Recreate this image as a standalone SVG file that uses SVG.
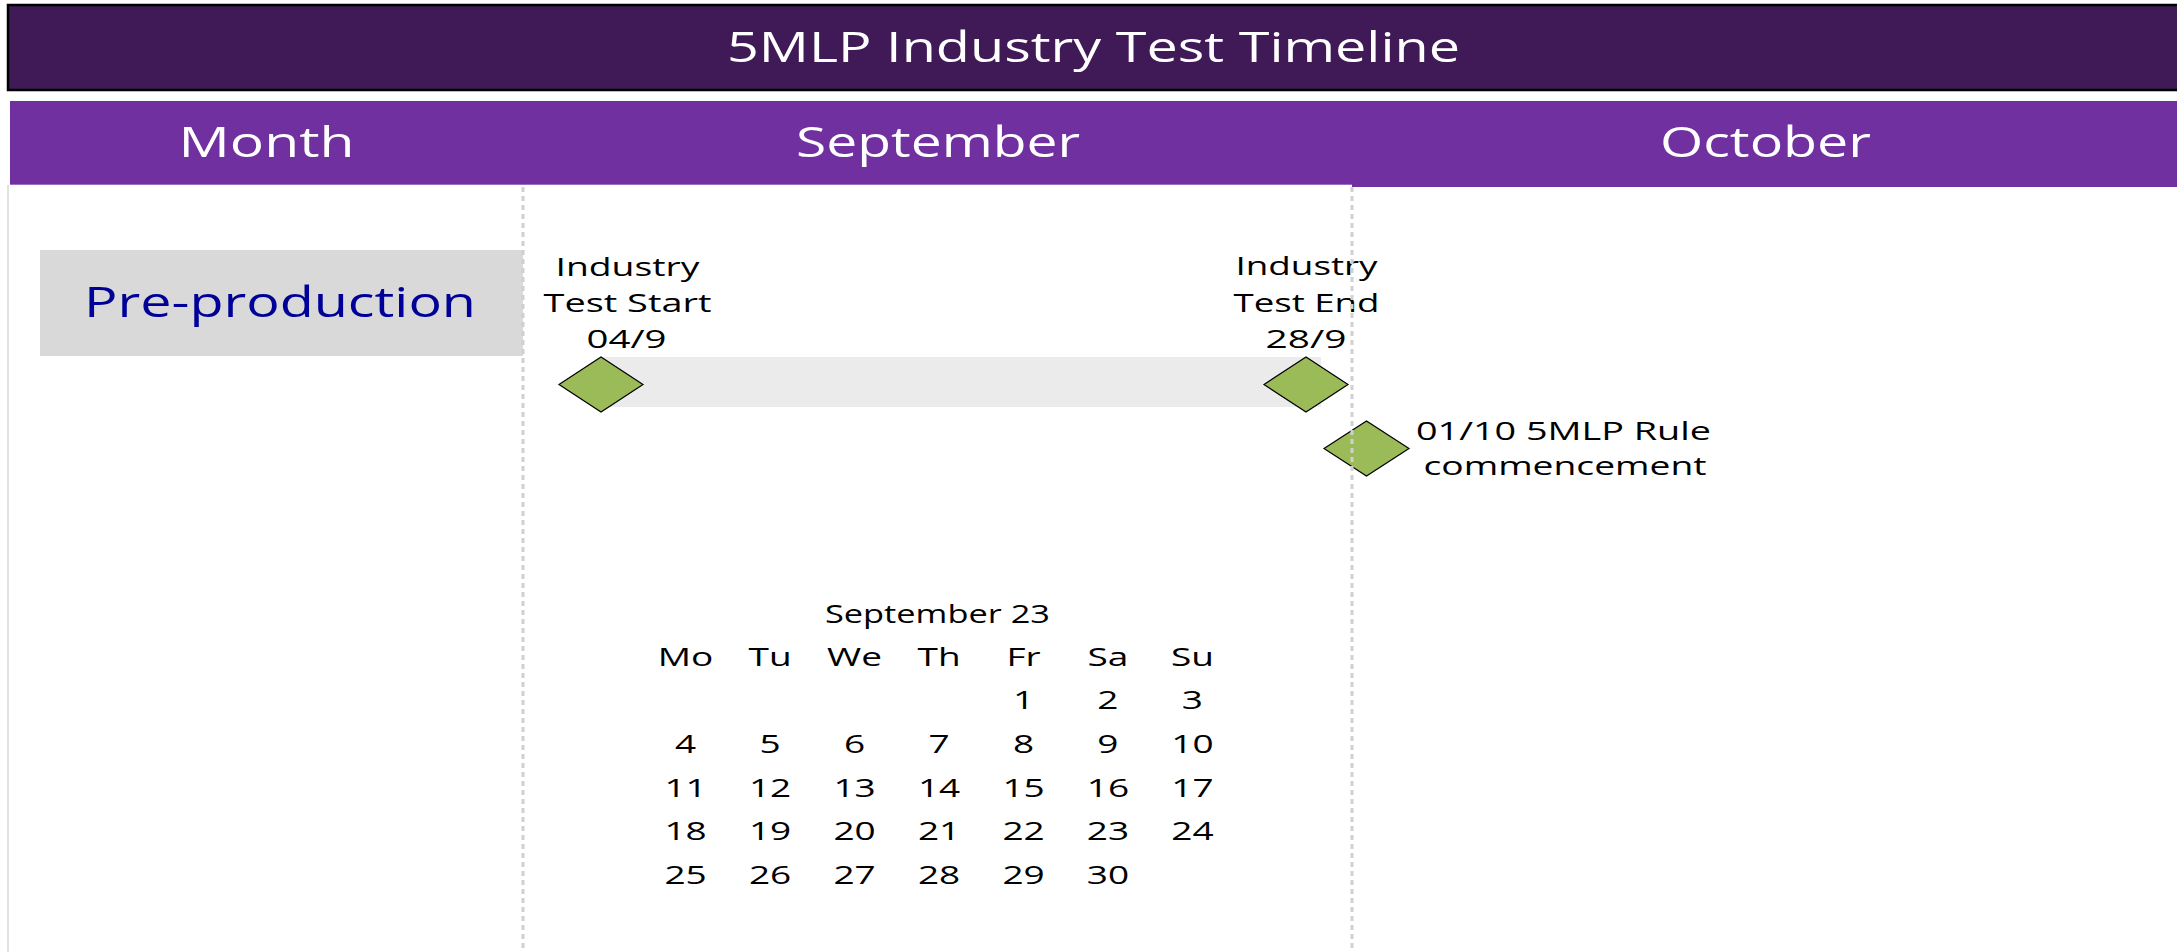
<svg xmlns="http://www.w3.org/2000/svg" width="2177" height="952" viewBox="0 0 2177 952">
<style>
.t{font-family:"Open Sans","Liberation Sans",sans-serif;text-anchor:middle}
.w{fill:#ffffff;font-size:42px}
.k{fill:#000000;font-size:26px}
.c{fill:#000000;font-size:25px}
.dia{fill:#9bbb59;stroke:#000000;stroke-width:1.2}
.dash{stroke:#d0d0d0;stroke-width:3;stroke-dasharray:5 4;fill:none}
</style>
<rect x="0" y="0" width="2177" height="952" fill="#ffffff"/>
<g id="title">
<rect x="8" y="5" width="2180" height="85" fill="#3f1a56" stroke="#000000" stroke-width="2.5"/>
<text class="t w" x="1093.5" y="62" textLength="733" lengthAdjust="spacingAndGlyphs">5MLP Industry Test Timeline</text>
</g>
<g id="header">
<rect x="10" y="101" width="1342" height="84" fill="#7030a0"/>
<line x1="10" y1="184.5" x2="1352" y2="184.5" stroke="#9c6cc4" stroke-width="1"/>
<rect x="1352" y="101" width="830" height="86" fill="#7030a0"/>
<text class="t w" x="266.5" y="157" textLength="176" lengthAdjust="spacingAndGlyphs">Month</text>
<text class="t w" x="938" y="157" textLength="284" lengthAdjust="spacingAndGlyphs">September</text>
<text class="t w" x="1765.5" y="157" textLength="211" lengthAdjust="spacingAndGlyphs">October</text>
</g>
<line x1="8" y1="185" x2="8" y2="952" stroke="#d9d9d9" stroke-width="1.5"/>
<g id="pre-production">
<rect x="40" y="250" width="483" height="106" fill="#d9d9d9"/>
<text class="t" x="280" y="317" font-size="42" fill="#000099" textLength="392" lengthAdjust="spacingAndGlyphs">Pre-production</text>
</g>
<g id="industry-test-bar">
<rect x="601" y="357" width="720" height="50" fill="#ebebeb"/>
</g>
<g id="test-start">
<polygon class="dia" points="559,384.5 601,357 643,384.5 601,412"/>
<text class="t k" x="627.5" y="276" textLength="144" lengthAdjust="spacingAndGlyphs">Industry</text>
<text class="t k" x="627.5" y="312" textLength="168" lengthAdjust="spacingAndGlyphs">Test Start</text>
<text class="t k" x="626.5" y="348" textLength="80" lengthAdjust="spacingAndGlyphs">04/9</text>
</g>
<g id="test-end">
<polygon class="dia" points="1264,384.5 1306,357 1348,384.5 1306,412"/>
<text class="t k" x="1306.5" y="275" textLength="142" lengthAdjust="spacingAndGlyphs">Industry</text>
<text class="t k" x="1306.5" y="312" textLength="146" lengthAdjust="spacingAndGlyphs">Test End</text>
<text class="t k" x="1306" y="348" textLength="81" lengthAdjust="spacingAndGlyphs">28/9</text>
</g>
<g id="rule-commencement">
<polygon class="dia" points="1324,448.5 1366.5,421 1409,448.5 1366.5,476"/>
<text class="t k" x="1563.5" y="440" textLength="295" lengthAdjust="spacingAndGlyphs">01/10 5MLP Rule</text>
<text class="t k" x="1565" y="475" textLength="283" lengthAdjust="spacingAndGlyphs">commencement</text>
</g>
<g id="calendar" class="t c" transform="scale(1.48 1)">
<text x="633.4" y="623" textLength="152" lengthAdjust="spacingAndGlyphs">September 23</text>
<text x="463.2" y="666">Mo</text><text x="520.3" y="666">Tu</text><text x="577.4" y="666">We</text><text x="634.5" y="666">Th</text><text x="691.6" y="666">Fr</text><text x="748.6" y="666">Sa</text><text x="805.7" y="666">Su</text>
<text x="691.6" y="709">1</text><text x="748.6" y="709">2</text><text x="805.7" y="709">3</text>
<text x="463.2" y="753">4</text><text x="520.3" y="753">5</text><text x="577.4" y="753">6</text><text x="634.5" y="753">7</text><text x="691.6" y="753">8</text><text x="748.6" y="753">9</text><text x="805.7" y="753">10</text>
<text x="463.2" y="797">11</text><text x="520.3" y="797">12</text><text x="577.4" y="797">13</text><text x="634.5" y="797">14</text><text x="691.6" y="797">15</text><text x="748.6" y="797">16</text><text x="805.7" y="797">17</text>
<text x="463.2" y="840">18</text><text x="520.3" y="840">19</text><text x="577.4" y="840">20</text><text x="634.5" y="840">21</text><text x="691.6" y="840">22</text><text x="748.6" y="840">23</text><text x="805.7" y="840">24</text>
<text x="463.2" y="884">25</text><text x="520.3" y="884">26</text><text x="577.4" y="884">27</text><text x="634.5" y="884">28</text><text x="691.6" y="884">29</text><text x="748.6" y="884">30</text>
</g>
<g id="connectors"></g>
<g id="gridlines">
<line class="dash" x1="523" y1="187" x2="523" y2="952"/>
<line class="dash" x1="1352" y1="187" x2="1352" y2="952"/>
</g>
</svg>
